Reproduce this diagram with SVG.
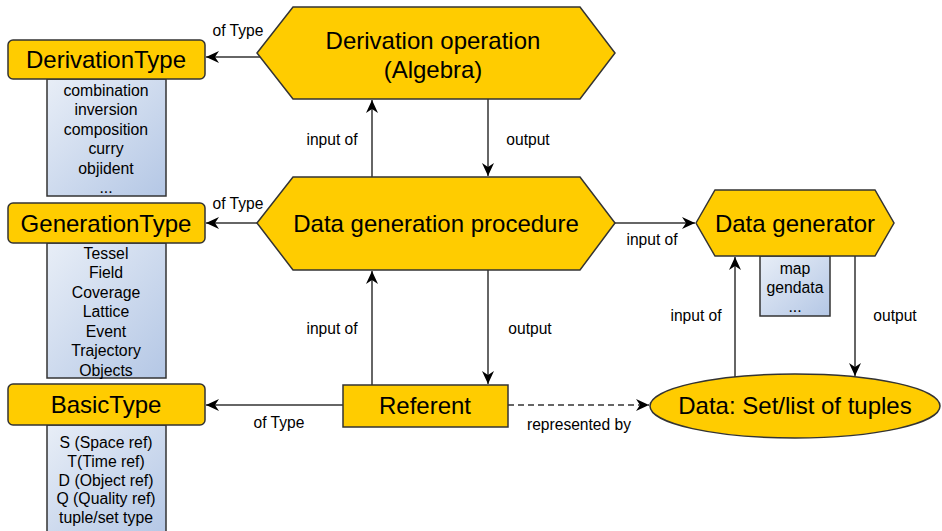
<svg xmlns="http://www.w3.org/2000/svg" width="942" height="531" viewBox="0 0 942 531">
  <style>
    .node { fill: #ffcc00; stroke: #333333; stroke-width: 1.5; }
    .list { fill: url(#listFill); stroke: #333333; stroke-width: 1.5; }
    .title { font-family: "Liberation Sans", Arial, sans-serif; font-size: 24px; fill: #000000; text-anchor: middle; }
    .item { font-family: "Liberation Sans", Arial, sans-serif; font-size: 15.8px; fill: #000000; text-anchor: middle; }
    .label { font-family: "Liberation Sans", Arial, sans-serif; font-size: 15.6px; fill: #000000; text-anchor: middle; }
    .edge { fill: none; stroke: #333333; stroke-width: 1.5; marker-end: url(#arrow); }
    .dashed { stroke-dasharray: 6 4; }
  </style>
  <defs>
    <linearGradient id="listFill" x1="0" y1="0" x2="1" y2="1">
      <stop offset="0" stop-color="#e8eef7"/>
      <stop offset="1" stop-color="#b4c7e5"/>
    </linearGradient>
    <marker id="arrow" markerUnits="userSpaceOnUse" markerWidth="14" markerHeight="12" viewBox="0 0 14 12" refX="13" refY="6" orient="auto">
      <path d="M0,0 L13,6 L0,12 L4,6 Z" fill="#000000"/>
    </marker>
  </defs>

  <rect width="942" height="531" fill="#ffffff"/>

  <!-- connectors -->
  <g id="connectors">
    <line class="edge" x1="261" y1="57" x2="206" y2="57"/>
    <line class="edge" x1="258" y1="223" x2="206" y2="223"/>
    <line class="edge" x1="343" y1="405" x2="206" y2="405"/>
    <line class="edge" x1="372" y1="177" x2="372" y2="100"/>
    <line class="edge" x1="488" y1="99" x2="488" y2="176"/>
    <line class="edge" x1="372" y1="385" x2="372" y2="271"/>
    <line class="edge" x1="488" y1="270" x2="488" y2="384"/>
    <line class="edge" x1="615" y1="223" x2="695" y2="223"/>
    <line class="edge" x1="735" y1="377" x2="735" y2="257"/>
    <line class="edge" x1="855" y1="256" x2="855" y2="376"/>
    <line class="edge dashed" x1="508" y1="405" x2="649" y2="405"/>
    <text class="label" x="238" y="36">of Type</text>
    <text class="label" x="238" y="209">of Type</text>
    <text class="label" x="279" y="428">of Type</text>
    <text class="label" x="332" y="145">input of</text>
    <text class="label" x="528" y="145">output</text>
    <text class="label" x="332" y="334">input of</text>
    <text class="label" x="530" y="334">output</text>
    <text class="label" x="652" y="245">input of</text>
    <text class="label" x="696" y="321">input of</text>
    <text class="label" x="895" y="321">output</text>
    <text class="label" x="579" y="430">represented by</text>
  </g>

  <!-- type boxes with value lists -->
  <g id="derivation-type">
    <rect class="list" x="47" y="79" width="119" height="117"/>
    <rect class="node" x="8" y="40" width="197" height="39" rx="5"/>
    <text class="title" x="106" y="68">DerivationType</text>
    <text class="item" x="106" y="96">combination</text>
    <text class="item" x="106" y="115">inversion</text>
    <text class="item" x="106" y="135">composition</text>
    <text class="item" x="106" y="154">curry</text>
    <text class="item" x="106" y="174">objident</text>
    <text class="item" x="106" y="193">...</text>
  </g>

  <g id="generation-type">
    <rect class="list" x="47" y="243" width="119" height="135"/>
    <rect class="node" x="8" y="203" width="197" height="40" rx="5"/>
    <text class="title" x="106" y="232">GenerationType</text>
    <text class="item" x="106" y="259">Tessel</text>
    <text class="item" x="106" y="278">Field</text>
    <text class="item" x="106" y="298">Coverage</text>
    <text class="item" x="106" y="317">Lattice</text>
    <text class="item" x="106" y="337">Event</text>
    <text class="item" x="106" y="356">Trajectory</text>
    <text class="item" x="106" y="376">Objects</text>
  </g>

  <g id="basic-type">
    <rect class="list" x="47" y="425" width="119" height="110"/>
    <rect class="node" x="8" y="384" width="197" height="41" rx="5"/>
    <text class="title" x="106" y="413">BasicType</text>
    <text class="item" x="106" y="448">S (Space ref)</text>
    <text class="item" x="106" y="467">T(Time ref)</text>
    <text class="item" x="106" y="486">D (Object ref)</text>
    <text class="item" x="106" y="504">Q (Quality ref)</text>
    <text class="item" x="106" y="523">tuple/set type</text>
  </g>

  <!-- process nodes -->
  <g id="derivation-operation">
    <polygon class="node" points="257,53 293,7 580,7 615,53 580,99 293,99"/>
    <text class="title" x="433" y="49">Derivation operation</text>
    <text class="title" x="433" y="78">(Algebra)</text>
  </g>

  <g id="data-generation-procedure">
    <polygon class="node" points="257,223 293,177 580,177 615,223 580,270 293,270"/>
    <text class="title" x="436" y="232">Data generation procedure</text>
  </g>

  <g id="data-generator">
    <rect class="list" x="760" y="256" width="70" height="60"/>
    <polygon class="node" points="696,223 715,190 875,190 894,223 875,256 715,256"/>
    <text class="title" x="795" y="232">Data generator</text>
    <text class="item" x="795" y="274">map</text>
    <text class="item" x="795" y="293">gendata</text>
    <text class="item" x="795" y="312">...</text>
  </g>

  <g id="referent">
    <rect class="node" x="343" y="385" width="165" height="42"/>
    <text class="title" x="425" y="414">Referent</text>
  </g>

  <g id="data-tuples">
    <ellipse class="node" cx="795" cy="406" rx="145" ry="32"/>
    <text class="title" x="795" y="414">Data: Set/list of tuples</text>
  </g>
</svg>
